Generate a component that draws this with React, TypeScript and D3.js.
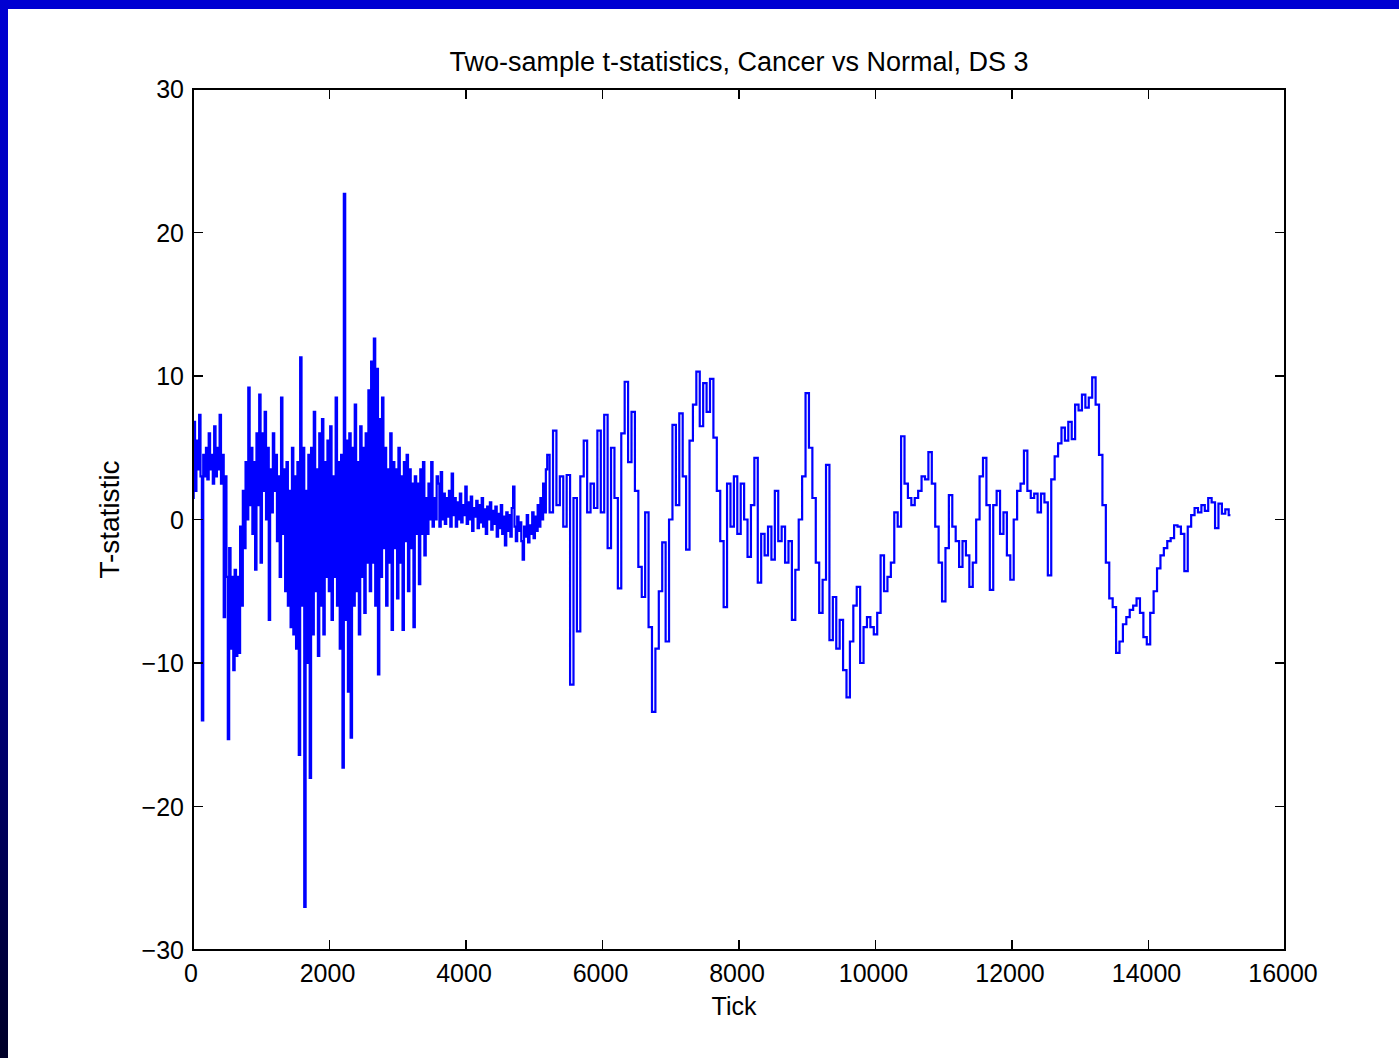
import { useMemo } from "react";
import * as d3 from "d3";

const chartTitle = "Two-sample t-statistics, Cancer vs Normal, DS 3";
const xAxisLabel = "Tick";
const yAxisLabel = "T-statistic";
const xTicks = [0, 2000, 4000, 6000, 8000, 10000, 12000, 14000, 16000];
const yTicks = [-30, -20, -10, 0, 10, 20, 30];

// noisy early part, read every 20 ticks (0 .. 5180)
const denseStart = 0;
const denseStep = 20;
const denseValues = [
  1.5, 6.8, 2, 5.5, 3.5, 7.3, 3, -14, 4.5, 3,
  5, 2.8, 6, 3.5, 4.5, 2.5, 6.5, 3, 5, 3.5,
  7.3, 2.5, 4.5, -6.8, 3, -4, -15.3, -2, -9, -4,
  -10.5, -3.5, -9.5, -4, -9.3, -0.5, -6, 2, -2, 4,
  0, 9.2, 1, 5, -1, 4, -3.5, 6, 1, 8.7,
  -3, 6, 2, 7.5, 0, 5, -7, 3.5, 0.5, 6,
  2, 4.5, -1.5, 3, -4, 8.5, -1, 3.5, -5, 4,
  -6, 2, -7.5, 5, -8, 3, -9, 4, -16.4, 11.3,
  -6, 5, -27, 2, -10, 4.5, -18, 5, -8, 7.5,
  -5, 3.5, -9.5, 6, -6, 7, -8, 4, -4, 5.5,
  -5, 6.5, -7, 3, -4, 8.5, -6, 4, -9, 4.5,
  -17.3, 22.7, -7, 5.5, -12, 6, -15.2, 5, -6, 8,
  -5, 4, -8, 6.5, -4, 5, -6.5, 6, -3, 9,
  -5, 11, -3, 12.6, -6, 10.5, -10.8, 7, -4, 8.5,
  -2, 5, -6, 3.5, -3, 6, -7.7, 4, -2, 3.5,
  -5.5, 5, -3, 3, -7.7, 4, -1.5, 4.5, -5, 3.5,
  -2, 2.5, -7.5, 3, -1, 2.5, -4.5, 3.5, -1, 4,
  -2.5, 1.5, -1, 2.5, 0, 4, -0.5, 1.5, 0, 3,
  2.5, -0.5, 3.3, 0, 1.8, -0.3, 1.5, 0.2, 2, -0.5,
  3.2, 0.3, 1.5, -0.5, 1.2, 0, 1.8, -0.2, 1, 0.3,
  2.3, -0.3, 1.2, 0, 1.6, -0.8, 0.8, 0.2, 1.3, -0.6,
  1, -0.2, 1.5, -0.5, 0.7, -1, 0.9, 0, 1.2, -0.7,
  0.6, -0.3, 0.9, -1.2, 0.4, -0.6, 1, -1, 0.2, -1.8,
  0.5, -0.8, 0.3, -1.2, 0.8, 2.3, -0.5, -1.5, 0.2, -0.8,
  -0.2, -1.5, -2.8, -0.5, -1.2, 0.3, -1.6, -0.4, -1, 0.5,
  -1.3, 0.2, -0.8, 1, -0.5, 1.5, 0, 2.5, 0.5, 3.5,
];

// rest of the run, read every 50 ticks (5200 .. 15250)
const sparseStart = 5200;
const sparseStep = 50;
const sparseValues = [
  4.5, 0.5, 6.2, 1, 3, -0.5, 3.1, -11.5,
  1.5, -7.8, 3, 5.5, 0.5, 2.5, 0.8, 6.2, 0.5, 7.3,
  -2, 5, 1.5, -4.8, 6, 9.6, 4, 7.5, 2, -3.3,
  -5.4, 0.5, -7.5, -13.4, -9, -5, -1.6, -8.5, 0, 6.6,
  1, 7.4, 3, -2.1, 5.5, 8, 10.3, 6.5, 9.5, 7.5,
  9.8, 5.7, 2, -1.5, -6.1, 2.5, -0.5, 3, -1, 2.5,
  0, -2.6, 1, 4.3, -4.4, -1, -2.5, -0.5, -2.8, 2,
  -1.5, -0.5, -3, -1.5, -7, -3.5, 0, 3, 8.8, 5,
  1.5, -3, -6.5, -4.2, 3.8, -8.4, -5.4, -9, -7, -10.5,
  -12.4, -8.5, -6, -4.7, -10, -7.5, -6.8, -7.5, -8, -6.5,
  -2.5, -5, -4, -3, 0.5, -0.5, 5.8, 2.5, 1.5, 1,
  1.5, 2, 3, 2.8, 4.7, 2.5, -0.5, -3, -5.7, -2,
  1.7, -0.5, -1.5, -3.3, -1.5, -2.5, -4.7, -3, 0, 3,
  4.3, 1, -4.9, 1, 2, -1, 0.5, -2.5, -4.2, 0,
  2, 2.5, 4.8, 2, 1.5, 1.8, 0.5, 1.8, 1.2, -3.9,
  2.8, 4.4, 5.3, 6.4, 5.5, 6.8, 5.6, 8, 7.6, 8.7,
  7.8, 8.5, 9.9, 8, 4.5, 1, -3, -5.5, -6.1, -9.3,
  -8.5, -7.3, -6.8, -6.3, -6, -5.5, -6.5, -8.2, -8.7, -6.5,
  -5, -3.4, -2.5, -2, -1.5, -1.3, -0.4, -0.5, -1, -3.6,
  -0.5, 0.3, 0.8, 0.5, 1, 0.6, 1.5, 1.2, -0.6, 1.1,
  0.4, 0.7, 0.3,
];

const W = 1399;
const H = 1058;
const plot = { left: 193, right: 1285, top: 89, bottom: 950 };
const font = "'Liberation Sans', Arial, Helvetica, sans-serif";
const tickLen = 10;

export default function App() {
  const x = d3.scaleLinear().domain([0, 16000]).range([plot.left, plot.right]);
  const y = d3.scaleLinear().domain([-30, 30]).range([plot.bottom, plot.top]);

  const points = useMemo(() => {
    const a = denseValues.map((v, i) => [denseStart + i * denseStep, v]);
    const b = sparseValues.map((v, i) => [sparseStart + i * sparseStep, v]);
    return [...a, ...b];
  }, []);

  const path = d3
    .line<number[]>()
    .x((d) => x(d[0]))
    .y((d) => y(d[1]))
    .curve(d3.curveStep)(points);

  const fmt = d3.format("d");

  return (
    <svg
      width={W}
      height={H}
      style={{ position: "absolute", left: 0, top: 0, background: "#fff" }}
      fontFamily={font}
    >
      <defs>
        <linearGradient id="sideBar" x1="0" y1="0" x2="0" y2="1">
          <stop offset="0%" stopColor="#0000d2" />
          <stop offset="45%" stopColor="#0000a8" />
          <stop offset="100%" stopColor="#000028" />
        </linearGradient>
      </defs>
      <rect x={0} y={0} width={W} height={H} fill="#fff" />
      <rect x={0} y={0} width={W} height={9} fill="#0000d2" />
      <rect x={0} y={0} width={8} height={H} fill="url(#sideBar)" />

      <path d={path ?? ""} fill="none" stroke="#0000ff" strokeWidth={2.2} />

      <g stroke="#000" strokeWidth={1.6} shapeRendering="crispEdges">
        <rect
          x={plot.left}
          y={plot.top}
          width={plot.right - plot.left}
          height={plot.bottom - plot.top}
          fill="none"
        />
        {xTicks.map((t) => (
          <g key={"xt" + t}>
            <line x1={x(t)} x2={x(t)} y1={plot.bottom} y2={plot.bottom - tickLen} />
            <line x1={x(t)} x2={x(t)} y1={plot.top} y2={plot.top + tickLen} />
          </g>
        ))}
        {yTicks.map((t) => (
          <g key={"yt" + t}>
            <line x1={plot.left} x2={plot.left + tickLen} y1={y(t)} y2={y(t)} />
            <line x1={plot.right} x2={plot.right - tickLen} y1={y(t)} y2={y(t)} />
          </g>
        ))}
      </g>

      <g fontSize={25} fill="#000">
        {xTicks.map((t) => (
          <text key={"xl" + t} x={x(t) - 2} y={plot.bottom + 32} textAnchor="middle">
            {fmt(t)}
          </text>
        ))}
        {yTicks.map((t) => (
          <text key={"yl" + t} x={plot.left - 9} y={y(t) + 9} textAnchor="end">
            {t < 0 ? "\u2212" + Math.abs(t) : String(t)}
          </text>
        ))}
        <text x={(plot.left + plot.right) / 2} y={71} textAnchor="middle" fontSize={27}>
          {chartTitle}
        </text>
        <text x={(plot.left + plot.right) / 2 - 5} y={1015} textAnchor="middle">
          {xAxisLabel}
        </text>
        <text
          transform={`translate(119, ${(plot.top + plot.bottom) / 2}) rotate(-90)`}
          textAnchor="middle"
          fontSize={28}
        >
          {yAxisLabel}
        </text>
      </g>
    </svg>
  );
}
